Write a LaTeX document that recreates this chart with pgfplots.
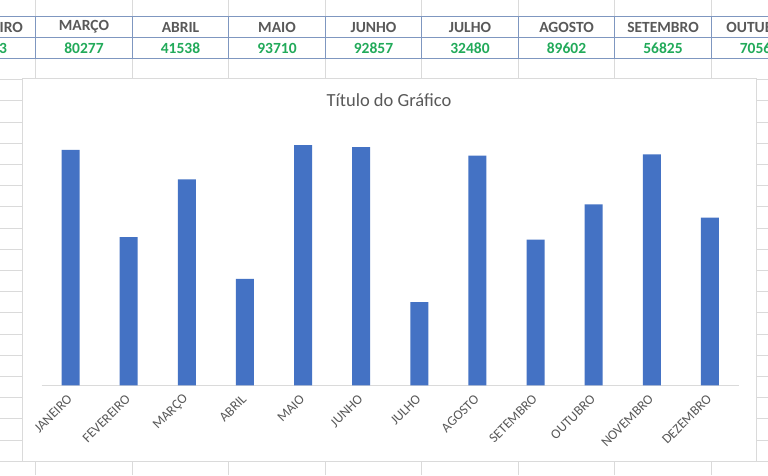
\documentclass[border=0pt]{standalone}
\usepackage{pgfplots}
\pgfplotsset{compat=1.18}
\usetikzlibrary{backgrounds}
\usepackage{fontspec}
\setmainfont{Carlito}
\definecolor{barblue}{HTML}{4472C4}
\definecolor{txtgray}{HTML}{595959}
\definecolor{gridc}{HTML}{DADADA}
\definecolor{tblue}{HTML}{7F97C0}
\definecolor{vgreen}{HTML}{22AA5A}
\begin{document}
\begin{tikzpicture}
\begin{axis}[
  name=ax,
  scale only axis, width=697.5pt, height=256.4pt,
  xmin=-0.5, xmax=11.5, ymin=0, ymax=100000,
  axis x line=bottom, axis y line=none,
  axis line style={draw=gridc, line width=0.8pt, -},
  xtick={0,...,11},
  xticklabels={JANEIRO,FEVEREIRO,MARÇO,ABRIL,MAIO,JUNHO,JULHO,AGOSTO,SETEMBRO,OUTUBRO,NOVEMBRO,DEZEMBRO},
  major tick length=0pt,
  ytick=\empty,
  xticklabel style={rotate=45, anchor=east, font=\fontsize{13.6}{15}\selectfont, text=txtgray, inner sep=1pt},
  xticklabel shift=11pt,
  clip=false,
]
\addplot[ybar, bar width=18pt, fill=barblue, draw=none] coordinates {
(0,91800) (1,57803) (2,80277) (3,41538) (4,93710) (5,92857) (6,32480) (7,89602) (8,56825) (9,70564) (10,90100) (11,65400)
};
\end{axis}
\begin{scope}[shift={(ax.south west)}, xshift=-41.5pt, yshift=-89.7pt, x=1pt, y=1pt]
\pgfresetboundingbox
\useasboundingbox (0,0) rectangle (768,475);
\begin{pgfonlayer}{background}
\begin{scope}
\clip (0,0) rectangle (768,475);
\fill[white] (0,0) rectangle (768,475);
\foreach \k in {0,...,20} {
  \draw[gridc, line width=0.8pt] (0,{475-(58.3+21.2*\k)}) -- (768,{475-(58.3+21.2*\k)});
}
\foreach \cc in {35.7,132.2,228.7,325.2,421.7,518.2,614.7,711.2} {
  \draw[gridc, line width=0.8pt] (\cc,0) -- (\cc,475);
}
\foreach \yy in {16.7,37.3,58.3} {
  \draw[tblue, line width=0.8pt] (0,{475-\yy}) -- (768,{475-\yy});
}
\foreach \cc in {35.7,132.2,228.7,325.2,421.7,518.2,614.7,711.2} {
  \draw[tblue, line width=0.8pt] (\cc,{475-16.7}) -- (\cc,{475-58.3});
}
\foreach \cx/\nm/\val in {-12.6/FEVEREIRO/57803, 84/MARÇO/80277, 180.5/ABRIL/41538, 277/MAIO/93710, 373.5/JUNHO/92857, 470/JULHO/32480, 566.5/AGOSTO/89602, 663/SETEMBRO/56825, 759.5/OUTUBRO/70564} {
  \node[text=txtgray, font=\fontsize{15.5}{17}\selectfont\bfseries, inner sep=0pt] at (\cx,{475-27}) {\nm};
  \node[text=vgreen, font=\fontsize{15.5}{17}\selectfont\bfseries, inner sep=0pt] at (\cx,{475-48}) {\val};
}
\fill[white] (22,{475-461}) rectangle (756.5,{475-78});
\draw[gridc, line width=0.8pt] (22,{475-461}) rectangle (756.5,{475-78});
\node[text=txtgray, font=\fontsize{18.5}{20}\selectfont, inner sep=0pt] at (389,{475-100}) {Título do Gráfico};
\end{scope}
\end{pgfonlayer}
\end{scope}
\end{tikzpicture}
\end{document}
